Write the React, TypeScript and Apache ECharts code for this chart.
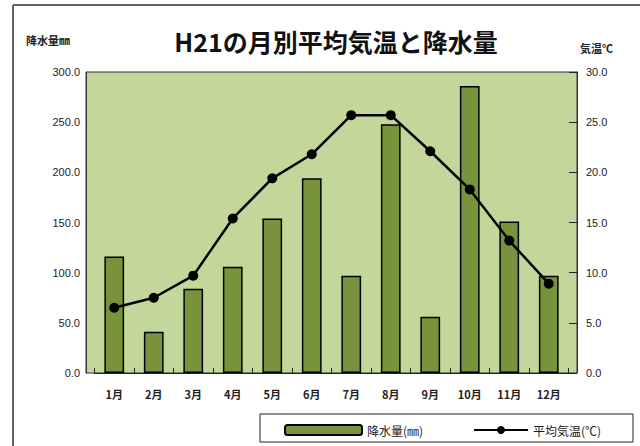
import React, { useEffect, useRef } from "react";
import * as echarts from "echarts";

const months = ["1月", "2月", "3月", "4月", "5月", "6月", "7月", "8月", "9月", "10月", "11月", "12月"];
const precipitation = [116, 41, 84, 106, 154, 194, 97, 248, 56, 286, 151, 97];
const temperature = [6.5, 7.5, 9.7, 15.4, 19.4, 21.8, 25.7, 25.7, 22.1, 18.3, 13.2, 8.9];
const precipName = "降水量(㎜)";
const tempName = "平均気温(℃)";

const JP = "'Noto Sans CJK JP', 'Noto Sans', sans-serif";
const NUM = "'Liberation Sans', Arial, sans-serif";

export default function App() {
  const ref = useRef<HTMLDivElement>(null);
  useEffect(() => {
    if (!ref.current) return;
    const chart = echarts.init(ref.current, null, { renderer: "svg" });
    chart.setOption({
      animation: false,
      backgroundColor: "#ffffff",
      title: {
        text: "H21の月別平均気温と降水量",
        left: 331,
        textAlign: "center",
        top: 23,
        textStyle: { fontFamily: JP, fontSize: 25, fontWeight: "bold", color: "#111" },
      },
      graphic: [
        { type: "line", shape: { x1: 13, y1: 5, x2: 13, y2: 446 }, style: { stroke: "#666", lineWidth: 2 } },
        { type: "line", shape: { x1: 13, y1: 5, x2: 640, y2: 5 }, style: { stroke: "#666", lineWidth: 2 } },
        { type: "rect", shape: { x: 86, y: 72, width: 491, height: 301 }, style: { fill: "#c4d79b", stroke: "#333", lineWidth: 1 }, z: -1 },
        { type: "rect", shape: { x: 260, y: 414, width: 373, height: 28 }, style: { fill: "#fff", stroke: "#222", lineWidth: 1 }, z: -1 },
        { type: "text", x: 26, y: 34, style: { text: "降水量㎜", font: `bold 11px ${JP}`, fill: "#222" } },
        { type: "text", x: 580, y: 42, style: { text: "気温℃", font: `bold 11px ${JP}`, fill: "#222" } },
      ],
      legend: [
        {
          data: [precipName],
          left: 284,
          top: 424,
          itemWidth: 77,
          itemHeight: 10,
          padding: 0,
          textStyle: { fontFamily: JP, fontSize: 12, color: "#222" },
        },
        {
          data: [tempName],
          left: 473,
          top: 424,
          itemWidth: 54,
          itemHeight: 10,
          padding: 0,
          textStyle: { fontFamily: JP, fontSize: 12, color: "#222" },
        },
      ],
      grid: {
        left: 94.5,
        right: 71.5,
        top: 72,
        bottom: 73,
        show: false,
      },
      xAxis: {
        type: "category",
        data: months,
        axisLine: { show: true, lineStyle: { color: "#222", width: 1 } },
        axisTick: { show: true, inside: true, length: 5, lineStyle: { color: "#222" } },
        axisLabel: { margin: 15, fontFamily: JP, fontSize: 11, fontWeight: "bold", color: "#222" },
      },
      yAxis: [
        {
          type: "value",
          min: 0,
          max: 300,
          interval: 50,
          position: "left",
          offset: 8.5,
          axisLine: { show: true, lineStyle: { color: "#333" } },
          axisTick: { show: false },
          splitLine: { show: false },
          axisLabel: { margin: 6, fontFamily: NUM, fontSize: 11, color: "#222", formatter: (v: number) => v.toFixed(1) },
        },
        {
          type: "value",
          min: 0,
          max: 30,
          interval: 5,
          position: "right",
          offset: 8.5,
          axisLine: { show: true, lineStyle: { color: "#333" } },
          axisTick: { show: true, inside: true, length: 8, lineStyle: { color: "#222" } },
          splitLine: { show: false },
          axisLabel: { margin: 9, fontFamily: NUM, fontSize: 11, color: "#222", formatter: (v: number) => v.toFixed(1) },
        },
      ],
      series: [
        {
          name: precipName,
          type: "bar",
          data: precipitation,
          yAxisIndex: 0,
          barWidth: "50%",
          itemStyle: { color: "#77933c", borderColor: "#000", borderWidth: 1.5 },
        },
        {
          name: tempName,
          type: "line",
          data: temperature,
          yAxisIndex: 1,
          symbol: "circle",
          symbolSize: 10,
          lineStyle: { color: "#000", width: 2.5 },
          itemStyle: { color: "#000" },
        },
      ],
    });
    return () => chart.dispose();
  }, []);
  return <div ref={ref} style={{ width: 640, height: 446, position: "absolute", left: 0, top: 0 }} />;
}
